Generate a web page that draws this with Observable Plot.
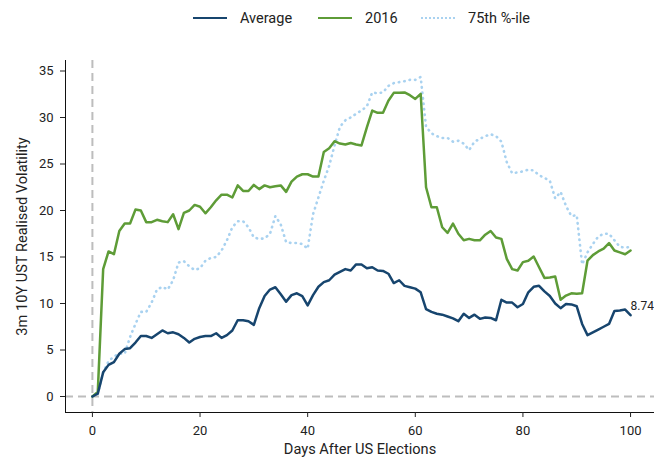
<!DOCTYPE html>
<html><head><meta charset="utf-8">
<script src="https://cdn.jsdelivr.net/npm/d3@7"></script>
<script src="https://cdn.jsdelivr.net/npm/@observablehq/plot@0.6"></script>
<style>
body{margin:0;background:#fff;font-family:Roboto,sans-serif;}
#legend{position:relative;height:35px;width:654px;font-size:14.5px;color:#222;}
.item{position:absolute;top:8px;height:20px;display:flex;align-items:center;}
.sw{width:34px;height:0;margin-right:13px;}
</style></head><body>
<div id="legend"></div>
<div id="chart"></div>
<script>
const days = [0,1,2,3,4,5,6,7,8,9,10,11,12,13,14,15,16,17,18,19,20,21,22,23,24,25,26,27,28,29,30,31,32,33,34,35,36,37,38,39,40,41,42,43,44,45,46,47,48,49,50,51,52,53,54,55,56,57,58,59,60,61,62,63,64,65,66,67,68,69,70,71,72,73,74,75,76,77,78,79,80,81,82,83,84,85,86,87,88,89,90,91,92,93,94,95,96,97,98,99,100];
const average = [0,0.3,2.6,3.4,3.7,4.6,5.1,5.2,5.8,6.5,6.5,6.3,6.7,7.1,6.8,6.9,6.7,6.3,5.8,6.2,6.4,6.5,6.5,6.8,6.3,6.6,7.1,8.2,8.2,8.1,7.7,9.5,10.8,11.5,11.75,11.0,10.2,10.9,11.1,10.8,9.8,10.9,11.8,12.3,12.5,13.1,13.4,13.7,13.55,14.2,14.2,13.8,13.9,13.55,13.5,13.2,12.2,12.5,11.9,11.75,11.6,11.2,9.4,9.1,8.9,8.8,8.6,8.4,8.1,8.9,8.45,8.8,8.35,8.5,8.45,8.2,10.4,10.1,10.1,9.6,9.95,11.2,11.8,11.9,11.3,10.8,10.0,9.5,9.95,9.9,9.7,7.8,6.6,6.9,7.2,7.5,7.8,9.2,9.25,9.35,8.74];
const y2016 = [0,0.5,13.7,15.6,15.3,17.8,18.6,18.6,20.1,20.0,18.75,18.75,19.0,18.85,18.75,19.6,18.0,19.75,20.0,20.6,20.4,19.7,20.35,21.1,21.7,21.7,21.4,22.7,22.1,22.1,22.75,22.3,22.7,22.5,22.6,22.7,22.0,23.1,23.65,23.9,23.9,23.65,23.65,26.3,26.7,27.45,27.2,27.1,27.25,27.1,27.0,28.95,30.75,30.5,30.5,31.8,32.65,32.65,32.7,32.4,32.0,32.55,22.5,20.35,20.35,18.2,17.6,18.6,17.5,16.8,16.95,16.8,16.8,17.4,17.8,17.1,16.95,14.8,13.7,13.55,14.45,14.6,15.05,13.9,12.75,12.8,12.9,10.4,10.85,11.1,11.05,11.1,14.6,15.2,15.6,15.9,16.5,15.7,15.5,15.3,15.7];
const pct75 = [0,0.3,2.6,3.8,4.3,4.6,4.6,6.4,7.8,9.1,9.1,10.1,11.5,11.8,11.5,12.5,14.4,14.55,14.0,13.6,13.8,14.6,14.9,15.0,15.7,16.8,18.2,18.85,18.85,18.2,17.1,16.95,17.0,17.5,19.4,18.5,16.6,16.5,16.5,16.4,15.9,19.6,21.4,23.2,24.8,27.0,29.0,29.7,30.0,30.4,30.75,31.2,32.7,32.6,32.7,33.4,33.7,33.8,33.9,34.05,34.05,34.35,29.0,28.3,28.0,27.8,27.8,27.4,27.5,27.2,26.5,27.4,27.7,28.0,28.2,28.0,27.4,25.2,24.0,24.1,24.2,24.4,24.3,23.8,23.5,23.2,21.3,22.0,20.5,19.4,19.5,14.2,15.5,16.4,17.2,17.5,17.5,16.8,16.1,16.0,16.1];
const seriesNames = ["Average","2016","75th %-ile"];
const colors = ["#17456e","#5e9c37","#a9d2f0"];
const xTicks = [0,20,40,60,80,100];
const yTicks = [0,5,10,15,20,25,30,35];
const xLabel = "Days After US Elections";
const yLabel = "3m 10Y UST Realised Volatility";
const lastLabel = "8.74";

const rows = (vals, name) => days.map((d,i)=>({day:d, v:vals[i], s:name}));
const avgRows = rows(average, seriesNames[0]);
const gRows = rows(y2016, seriesNames[1]);
const pRows = rows(pct75, seriesNames[2]);

// legend
const leg = document.getElementById("legend");
const lefts = [193,318,421];
seriesNames.forEach((n,i)=>{
  const it = document.createElement("div");
  it.className="item"; it.style.left = lefts[i]+"px";
  const sw = document.createElement("div"); sw.className="sw";
  sw.style.borderTop = i===2 ? `2.5px dotted ${colors[i]}` : `2.5px solid ${colors[i]}`;
  const tx = document.createElement("span"); tx.textContent = n;
  it.appendChild(sw); it.appendChild(tx); leg.appendChild(it);
});

const X0=-5, X1=104.45, Y0=-1.72, Y1=36.13;
const chart = Plot.plot({
  width:654, height:423,
  marginLeft:65, marginRight:0, marginTop:25, marginBottom:46,
  x:{domain:[X0,X1]},
  y:{domain:[Y0,Y1]},
  style:{fontFamily:'Roboto,sans-serif', fontSize:"13px", color:"#222", background:"white"},
  marks:[
    Plot.ruleX([0],{stroke:"#bdbdbd", strokeWidth:2, strokeDasharray:"8,5"}),
    Plot.ruleY([0],{stroke:"#bdbdbd", strokeWidth:2, strokeDasharray:"8,5"}),
    Plot.line(pRows,{x:"day", y:"v", stroke:colors[2], strokeWidth:2.6, strokeDasharray:"0.5,5", strokeLinecap:"round"}),
    Plot.line(gRows,{x:"day", y:"v", stroke:colors[1], strokeWidth:2.5}),
    Plot.line(avgRows,{x:"day", y:"v", stroke:colors[0], strokeWidth:2.5}),
    Plot.text([avgRows[avgRows.length-1]],{x:"day", y:"v", text:()=>lastLabel, textAnchor:"start", dx:0, dy:-9, fontSize:12, fill:"#222"}),
    Plot.ruleX([X0],{stroke:"#111", strokeWidth:1}),
    Plot.ruleY([Y0],{stroke:"#111", strokeWidth:1}),
    Plot.axisX({ticks:xTicks, tickSize:5, tickPadding:8, label:null}),
    Plot.axisY({ticks:yTicks, tickSize:5, tickPadding:7, label:null}),
    Plot.text([xLabel],{frameAnchor:"bottom", dy:37, text:d=>d, fontSize:14.6, fill:"#222", lineAnchor:"middle", textAnchor:"middle"}),
    Plot.text([yLabel],{frameAnchor:"left", dx:-43, rotate:-90, text:d=>d, fontSize:14.6, fill:"#222", lineAnchor:"middle", textAnchor:"middle"})
  ]
});
document.getElementById("chart").appendChild(chart);
</script>
</body></html>
